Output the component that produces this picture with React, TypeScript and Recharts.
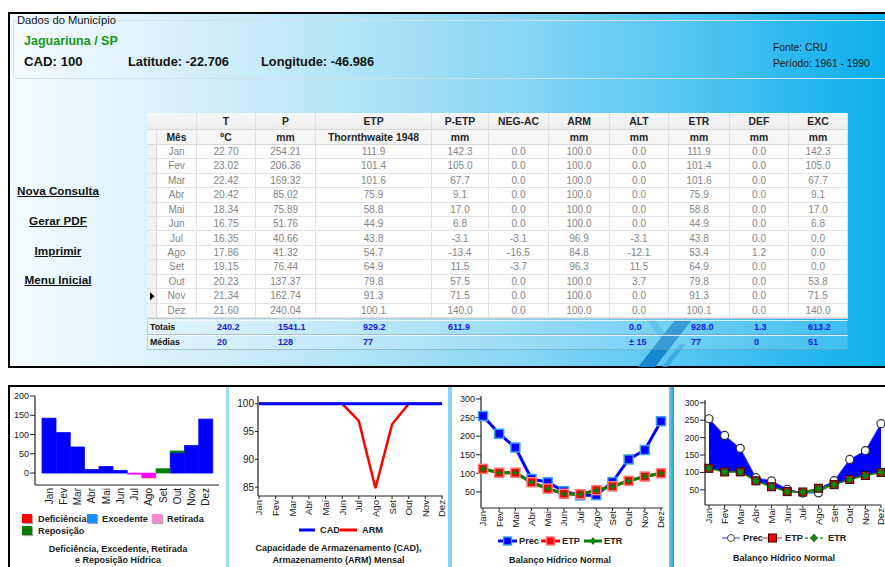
import React from "react";
import { BarChart, Bar, XAxis, YAxis, LineChart, Line, ComposedChart, Area } from "recharts";

const F = "'Liberation Sans', Arial, Helvetica, sans-serif";

// ---------- DATA ----------
const months = ["Jan", "Fev", "Mar", "Abr", "Mai", "Jun", "Jul", "Ago", "Set", "Out", "Nov", "Dez"];
const temp = [22.7, 23.02, 22.42, 20.42, 18.34, 16.75, 16.35, 17.86, 19.15, 20.23, 21.34, 21.6];
const prec = [254.21, 206.36, 169.32, 85.02, 75.89, 51.76, 40.66, 41.32, 76.44, 137.37, 162.74, 240.04];
const etp = [111.9, 101.4, 101.6, 75.9, 58.8, 44.9, 43.8, 54.7, 64.9, 79.8, 91.3, 100.1];
const pMinusEtp = [142.3, 105.0, 67.7, 9.1, 17.0, 6.8, -3.1, -13.4, 11.5, 57.5, 71.5, 140.0];
const negAc = [0, 0, 0, 0, 0, 0, -3.1, -16.5, -3.7, 0, 0, 0];
const arm = [100, 100, 100, 100, 100, 100, 96.9, 84.8, 96.3, 100, 100, 100];
const alt = [0, 0, 0, 0, 0, 0, -3.1, -12.1, 11.5, 3.7, 0, 0];
const etr = [111.9, 101.4, 101.6, 75.9, 58.8, 44.9, 43.8, 53.4, 64.9, 79.8, 91.3, 100.1];
const def = [0, 0, 0, 0, 0, 0, 0, 1.2, 0, 0, 0, 0];
const exc = [142.3, 105.0, 67.7, 9.1, 17.0, 6.8, 0, 0, 0, 53.8, 71.5, 140.0];
const cadValue = 100;

const headerTop = ["T", "P", "ETP", "P-ETP", "NEG-AC", "ARM", "ALT", "ETR", "DEF", "EXC"];
const headerUnits = ["ºC", "mm", "Thornthwaite 1948", "mm", "", "mm", "mm", "mm", "mm", "mm"];
const totalsRow = ["240.2", "1541.1", "929.2", "611.9", "", "", "0.0", "928.0", "1.3", "613.2"];
const mediasRow = ["20", "128", "77", "", "", "", "± 15", "77", "0", "51"];

const axis1Ticks = [0, 50, 100, 150, 200];
const axis2Ticks = [85, 90, 95, 100];
const axis3Ticks = [50, 100, 150, 200, 250, 300];

// ---------- LAYOUT ----------
const colX = [147, 157, 197, 256, 316, 432, 489, 549, 610, 669, 730, 789, 848];
const sumX = [217, 278, 363, 448, 0, 0, 629, 691, 754, 808];

const d1 = months.map((m, i) => ({
  m,
  exc: exc[i],
  repos: Math.max(alt[i], 0),
  retir: Math.min(alt[i], 0),
  def: -def[i],
}));
const d2 = months.map((m, i) => ({ m, cad: cadValue, arm: arm[i] }));
const d3 = months.map((m, i) => ({ m, prec: prec[i], etp: etp[i], etr: etr[i] }));
const d4 = months.map((m, i) => ({
  m,
  prec: prec[i],
  etp: etp[i],
  etr: etr[i],
  excRange: [etp[i], Math.max(prec[i], etp[i])],
  defRange: [Math.min(prec[i], etr[i]), etr[i]],
}));

function Abs({ x, y, w, h, children, style }: any) {
  return (
    <div style={{ position: "absolute", left: x, top: y, width: w, height: h, boxSizing: "border-box", ...style }}>
      {children}
    </div>
  );
}

function Txt({ x, cy, w, children, style }: any) {
  return (
    <div
      style={{
        position: "absolute",
        left: x,
        top: cy - 8,
        width: w,
        height: 16,
        lineHeight: "16px",
        whiteSpace: "nowrap",
        fontFamily: F,
        textAlign: w ? "center" : "left",
        ...style,
      }}
    >
      {children}
    </div>
  );
}

const makeTick = (fs: number) => (props: any) => {
  const { x, y, payload } = props;
  return (
    <text
      x={x}
      y={y}
      transform={`rotate(-90 ${x} ${y})`}
      textAnchor="end"
      dy={fs * 0.36}
      fontSize={fs}
      fill="#1a1a1a"
      fontFamily={F}
    >
      {payload.value}
    </text>
  );
};

function Table() {
  const cells: any[] = [];
  const H1 = 113,
    H2 = 130,
    D0 = 145,
    RH = (318 - 145) / 12;
  const grid = "1px solid #e3e3e3";
  const hdrBase: any = {
    fontFamily: F,
    fontWeight: "bold",
    fontSize: 10.4,
    color: "#262626",
    textAlign: "center",
    borderRight: "1px solid #e0e0e0",
    borderBottom: "1px solid #d8d8d8",
    whiteSpace: "nowrap",
    overflow: "hidden",
  };
  const hdr1: any = { ...hdrBase, background: "linear-gradient(#f8f8f8,#ececec)", lineHeight: "17px" };
  const hdr2: any = { ...hdrBase, background: "#f6f6f6", lineHeight: "15px" };
  cells.push(<Abs key="bg" x={147} y={113} w={701} h={206} style={{ background: "#fff", border: "1px solid #c9c9c9" }} />);
  cells.push(<Abs key="h1a" x={147} y={H1} w={50} h={17} style={hdr1} />);
  for (let c = 2; c < 12; c++) {
    cells.push(
      <Abs key={"h1" + c} x={colX[c]} y={H1} w={colX[c + 1] - colX[c]} h={17} style={hdr1}>
        {headerTop[c - 2]}
      </Abs>
    );
  }
  cells.push(<Abs key="h2a" x={147} y={H2} w={10} h={15} style={hdr2} />);
  cells.push(
    <Abs key="h2b" x={157} y={H2} w={40} h={15} style={hdr2}>
      Mês
    </Abs>
  );
  for (let c = 2; c < 12; c++) {
    cells.push(
      <Abs key={"h2" + c} x={colX[c]} y={H2} w={colX[c + 1] - colX[c]} h={15} style={hdr2}>
        {headerUnits[c - 2]}
      </Abs>
    );
  }
  const dataStyle: any = {
    fontFamily: F,
    fontSize: 10,
    color: "#858585",
    textAlign: "center",
    borderRight: grid,
    borderBottom: grid,
    lineHeight: RH + "px",
    whiteSpace: "nowrap",
  };
  months.forEach((m, i) => {
    const y = D0 + i * RH;
    const vals = [
      m,
      temp[i].toFixed(2),
      prec[i].toFixed(2),
      etp[i].toFixed(1),
      pMinusEtp[i].toFixed(1),
      negAc[i].toFixed(1),
      arm[i].toFixed(1),
      alt[i].toFixed(1),
      etr[i].toFixed(1),
      def[i].toFixed(1),
      exc[i].toFixed(1),
    ];
    cells.push(
      <Abs key={"ind" + i} x={147} y={y} w={10} h={RH} style={{ background: "#f1f1f1", borderRight: "1px solid #d6d6d6", borderBottom: "1px solid #e2e2e2" }}>
        {i === 10 ? (
          <svg width={10} height={RH} style={{ display: "block" }}>
            <polygon points={`3,${RH / 2 - 4} 7.5,${RH / 2} 3,${RH / 2 + 4}`} fill="#000" />
          </svg>
        ) : null}
      </Abs>
    );
    vals.forEach((v, k) => {
      const c = k + 1;
      cells.push(
        <Abs key={"d" + i + "_" + c} x={colX[c]} y={y} w={colX[c + 1] - colX[c]} h={RH} style={dataStyle}>
          {v}
        </Abs>
      );
    });
  });
  // totals / medias
  const sumRowStyle: any = {
    background: "rgba(255,255,255,0.16)",
    borderTop: "1px solid rgba(255,255,255,0.75)",
    borderBottom: "1px solid rgba(110,140,160,0.45)",
    borderLeft: "1px solid rgba(110,140,160,0.35)",
    borderRight: "1px solid rgba(110,140,160,0.35)",
  };
  cells.push(<Abs key="trow" x={147} y={320} w={701} h={15} style={sumRowStyle} />);
  cells.push(<Abs key="mrow" x={147} y={335} w={701} h={15} style={sumRowStyle} />);
  const sumTxt: any = { fontSize: 9, fontWeight: "bold", color: "#1a1ae6" };
  cells.push(
    <Txt key="tl" x={150} cy={327} style={{ fontSize: 8.8, fontWeight: "bold", color: "#111" }}>
      Totais
    </Txt>
  );
  cells.push(
    <Txt key="ml" x={150} cy={342} style={{ fontSize: 8.8, fontWeight: "bold", color: "#111" }}>
      Médias
    </Txt>
  );
  totalsRow.forEach((v, k) => {
    if (v) cells.push(<Txt key={"t" + k} x={sumX[k]} cy={327} style={sumTxt}>{v}</Txt>);
  });
  mediasRow.forEach((v, k) => {
    if (v) cells.push(<Txt key={"mm" + k} x={sumX[k]} cy={342} style={sumTxt}>{v}</Txt>);
  });
  return <>{cells}</>;
}

function Sq({ x, y, color, size = 10 }: any) {
  return (
    <Abs
      x={x}
      y={y}
      w={size}
      h={size - 1}
      style={{ background: color, boxShadow: "1px 1px 1px rgba(0,0,0,0.35)" }}
    />
  );
}

function LegendLine({ x, y, w, color, marker, dashed, lw = 3 }: any) {
  const cx = w / 2;
  return (
    <svg style={{ position: "absolute", left: x, top: y - 6 }} width={w} height={12}>
      <line x1={0} y1={6} x2={w} y2={6} stroke={color} strokeWidth={lw} strokeDasharray={dashed ? "3 2" : undefined} />
      {marker === "sqBlue" && <rect x={cx - 4} y={2} width={8} height={8} fill="#0000ff" stroke="#3aa6f0" strokeWidth={1.5} />}
      {marker === "sqRed" && <rect x={cx - 4} y={2} width={8} height={8} fill="#ff0000" stroke="#ff7a7a" strokeWidth={1.5} />}
      {marker === "sqRedDark" && <rect x={cx - 4} y={2} width={8} height={8} fill="#ff0000" stroke="#400000" strokeWidth={1} />}
      {marker === "star" && <polygon points={`${cx},2 ${cx + 3},6 ${cx},10 ${cx - 3},6`} fill="#008000" />}
      {marker === "diamond" && <polygon points={`${cx},2 ${cx + 3.5},6 ${cx},10 ${cx - 3.5},6`} fill="#0a8a0a" stroke="#004400" strokeWidth={0.5} />}
      {marker === "circle" && <circle cx={cx} cy={6} r={3.5} fill="#fff" stroke="#444" strokeWidth={1} />}
    </svg>
  );
}

const sqDot = (fill: string, stroke: string, s: number, sw: number) => (p: any) => {
  if (p.cx == null || p.cy == null) return <g key={p.index} />;
  return <rect key={p.index} x={p.cx - s / 2} y={p.cy - s / 2} width={s} height={s} fill={fill} stroke={stroke} strokeWidth={sw} />;
};
const diamondDot = (fill: string, stroke: string, r: number) => (p: any) => {
  if (p.cx == null || p.cy == null) return <g key={p.index} />;
  const { cx, cy } = p;
  return <polygon key={p.index} points={`${cx},${cy - r} ${cx + r},${cy} ${cx},${cy + r} ${cx - r},${cy}`} fill={fill} stroke={stroke} strokeWidth={0.6} />;
};
const starDot = (p: any) => {
  if (p.cx == null || p.cy == null) return <g key={p.index} />;
  const { cx, cy } = p;
  const r = 4,
    q = 1.3;
  return (
    <polygon
      key={p.index}
      points={`${cx},${cy - r} ${cx + q},${cy - q} ${cx + r},${cy} ${cx + q},${cy + q} ${cx},${cy + r} ${cx - q},${cy + q} ${cx - r},${cy} ${cx - q},${cy - q}`}
      fill="#008000"
    />
  );
};
const circleDot = (p: any) => {
  if (p.cx == null || p.cy == null) return <g key={p.index} />;
  return <circle key={p.index} cx={p.cx} cy={p.cy} r={4} fill="#fff" stroke="#333" strokeWidth={1.2} />;
};

const axisStroke = { stroke: "#222", strokeWidth: 1.2 };
const legTxt: any = { fontSize: 9.2, fontWeight: "bold", color: "#222" };
const titleTxt: any = { fontSize: 9, fontWeight: "bold", color: "#1a1a1a", textAlign: "center" };
const fsBorder = "1px solid #cde1ea";

export default function App() {
  return (
    <div style={{ position: "absolute", left: 0, top: 0, width: 885, height: 567, overflow: "hidden", background: "#fff", fontFamily: F }}>
      {/* Top panel */}
      <Abs
        x={8}
        y={12}
        w={900}
        h={356}
        style={{
          border: "2px solid #000",
          background:
            "linear-gradient(90deg, #f6fcff 0%, #e2f4fb 12%, #c6ebf9 28%, #a4dff6 45%, #7fd3f4 60%, #55c6f2 75%, #2bb8ee 88%, #02adea 100%)",
        }}
      />
      {/* decoration stripes */}
      <svg style={{ position: "absolute", left: 620, top: 318 }} width={100} height={50}>
        <polygon points="28,2 36,2 50,24 42,24" fill="#3aa8e4" opacity={0.6} />
        <polygon points="55,2 72,2 35,49 18,49" fill="#1487cf" />
        <polygon points="60,26 66,26 48,49 42,49" fill="#2b9fe0" opacity={0.7} />
      </svg>
      {/* fieldset */}
      <Abs x={13} y={20} w={900} h={59} style={{ borderLeft: fsBorder, borderBottom: fsBorder, borderRadius: "0 0 0 5px" }} />
      <Abs x={13} y={20} w={3} h={1} style={{ background: "#cde1ea" }} />
      <Abs x={118} y={20} w={800} h={1} style={{ background: "#cde1ea" }} />
      <Txt x={17} cy={20} style={{ fontSize: 11.2, color: "#111" }}>
        Dados do Município
      </Txt>
      <Txt x={24} cy={41} style={{ fontSize: 12.5, fontWeight: "bold", color: "#169816" }}>
        Jaguariuna / SP
      </Txt>
      <Txt x={24} cy={62} style={{ fontSize: 13.2, fontWeight: "bold", color: "#111" }}>
        CAD: 100
      </Txt>
      <Txt x={128} cy={62} style={{ fontSize: 12.8, fontWeight: "bold", color: "#111" }}>
        Latitude: -22.706
      </Txt>
      <Txt x={261} cy={62} style={{ fontSize: 12.8, fontWeight: "bold", color: "#111" }}>
        Longitude: -46.986
      </Txt>
      <Txt x={773} cy={48} style={{ fontSize: 10.3, color: "#1a1a1a" }}>
        Fonte: CRU
      </Txt>
      <Txt x={773} cy={64} style={{ fontSize: 10.3, color: "#1a1a1a" }}>
        Período: 1961 - 1990
      </Txt>
      {/* links */}
      {["Nova Consulta", "Gerar PDF", "Imprimir", "Menu Inicial"].map((t, i) => (
        <Txt key={t} x={8} w={100} cy={[191, 221, 251, 280][i]} style={{ fontSize: 11.7, fontWeight: "bold", color: "#111", textDecoration: "underline" }}>
          {t}
        </Txt>
      ))}
      <Table />

      {/* Bottom panel */}
      <Abs x={8} y={385} w={900} h={200} style={{ border: "2px solid #000", background: "#fff" }} />
      <Abs x={226} y={387} w={3} h={190} style={{ background: "#9edcf6" }} />
      <Abs x={448} y={387} w={4} h={190} style={{ background: "#86d3f3" }} />
      <Abs x={669} y={387} w={5} h={190} style={{ background: "linear-gradient(90deg,#6fcaf0,#1d9ede)" }} />

      {/* Chart 1 */}
      <div style={{ position: "absolute", left: 8, top: 388 }}>
        <BarChart width={218} height={130} data={d1} margin={{ top: 8, right: 7, bottom: 5, left: 0 }} barCategoryGap={0} barGap={0} stackOffset="sign">
          <XAxis
            dataKey="m"
            interval={0}
            tick={makeTick(10)}
            tickLine={false}
            tickSize={1}
            tickMargin={2}
            height={28}
            axisLine={axisStroke}
            padding={{ left: 7, right: 6 }}
          />
          <YAxis
            width={27}
            domain={[-31, 200]}
            ticks={axis1Ticks}
            allowDataOverflow
            tick={{ fontSize: 9, fill: "#1a1a1a", fontFamily: F }}
            tickSize={5}
            tickMargin={1}
            axisLine={axisStroke}
            tickLine={{ stroke: "#222" }}
          />
          <Bar dataKey="exc" stackId="s" fill="#0000ff" stroke="#0000ff" strokeWidth={0.8} isAnimationActive={false} />
          <Bar dataKey="repos" stackId="s" fill="#008000" stroke="#008000" strokeWidth={0.6} isAnimationActive={false} />
          <Bar dataKey="retir" stackId="s" fill="#ff00ff" stroke="#ff00ff" strokeWidth={0.6} isAnimationActive={false} />
          <Bar dataKey="def" stackId="s" fill="#ff0000" isAnimationActive={false} />
        </BarChart>
      </div>
      <Sq x={22} y={514} color="#ff0000" />
      <Txt x={38} cy={518.5} style={legTxt}>Deficiência</Txt>
      <Sq x={87} y={514} color="#1e8cff" />
      <Txt x={102} cy={518.5} style={legTxt}>Excedente</Txt>
      <Sq x={152} y={514} color="#ff88cc" />
      <Txt x={167} cy={518.5} style={legTxt}>Retirada</Txt>
      <Sq x={22} y={526} color="#007a00" />
      <Txt x={38} cy={530.5} style={legTxt}>Reposição</Txt>
      <Txt x={10} w={216} cy={549} style={titleTxt}>Deficiência, Excedente, Retirada</Txt>
      <Txt x={10} w={216} cy={560} style={titleTxt}>e Reposição Hídrica</Txt>

      {/* Chart 2 */}
      <div style={{ position: "absolute", left: 228, top: 388 }}>
        <LineChart width={220} height={140} data={d2} margin={{ top: 8, right: 5, bottom: 2, left: 0 }}>
          <XAxis
            dataKey="m"
            interval={0}
            tick={makeTick(9.6)}
            tickSize={3}
            tickMargin={1}
            height={30}
            axisLine={axisStroke}
            tickLine={{ stroke: "#222" }}
            padding={{ left: 1, right: 1 }}
          />
          <YAxis
            width={30}
            domain={[83.4, 101.4]}
            ticks={axis2Ticks}
            allowDataOverflow
            tick={{ fontSize: 10, fill: "#1a1a1a", fontFamily: F }}
            tickSize={3}
            tickMargin={1}
            axisLine={axisStroke}
            tickLine={{ stroke: "#222" }}
          />
          <Line dataKey="arm" stroke="#ff0000" strokeWidth={2.5} dot={false} isAnimationActive={false} />
          <Line dataKey="cad" stroke="#0000ff" strokeWidth={3} dot={false} isAnimationActive={false} />
        </LineChart>
      </div>
      <LegendLine x={299} y={530} w={16} color="#0000ff" />
      <Txt x={320} cy={530} style={legTxt}>CAD</Txt>
      <LegendLine x={340} y={530} w={17} color="#ff0000" />
      <Txt x={362} cy={530} style={legTxt}>ARM</Txt>
      <Txt x={229} w={219} cy={548} style={titleTxt}>Capacidade de Armazenamento (CAD),</Txt>
      <Txt x={229} w={219} cy={560} style={titleTxt}>Armazenamento (ARM) Mensal</Txt>

      {/* Chart 3 */}
      <div style={{ position: "absolute", left: 450, top: 388 }}>
        <LineChart width={220} height={145} data={d3} margin={{ top: 8, right: 7, bottom: 3, left: 0 }}>
          <XAxis
            dataKey="m"
            interval={0}
            tick={makeTick(9.6)}
            tickSize={3}
            tickMargin={0}
            height={22}
            axisLine={axisStroke}
            tickLine={{ stroke: "#222" }}
            padding={{ left: 2, right: 2 }}
          />
          <YAxis
            width={31}
            domain={[6.7, 308]}
            ticks={axis3Ticks}
            allowDataOverflow
            tick={{ fontSize: 9, fill: "#1a1a1a", fontFamily: F }}
            tickSize={5}
            tickMargin={1}
            axisLine={axisStroke}
            tickLine={{ stroke: "#222" }}
          />
          <Line dataKey="prec" stroke="#0000ff" strokeWidth={3} dot={sqDot("#0000ff", "#3aa6f0", 9, 1.5)} isAnimationActive={false} />
          <Line dataKey="etp" stroke="#ff0000" strokeWidth={3} dot={sqDot("#ff0000", "#ff7a7a", 9, 1.5)} isAnimationActive={false} />
          <Line dataKey="etr" stroke="#008000" strokeWidth={3} dot={starDot} isAnimationActive={false} />
        </LineChart>
      </div>
      <LegendLine x={498} y={541} w={19} color="#0000ff" marker="sqBlue" />
      <Txt x={519} cy={541} style={legTxt}>Prec</Txt>
      <LegendLine x={541} y={541} w={19} color="#ff0000" marker="sqRed" />
      <Txt x={562} cy={541} style={legTxt}>ETP</Txt>
      <LegendLine x={584} y={541} w={18} color="#008000" marker="star" />
      <Txt x={604} cy={541} style={legTxt}>ETR</Txt>
      <Txt x={452} w={216} cy={560} style={titleTxt}>Balanço Hídrico Normal</Txt>

      {/* Chart 4 */}
      <div style={{ position: "absolute", left: 675, top: 392 }}>
        <ComposedChart width={220} height={140} data={d4} margin={{ top: 8, right: 14, bottom: 3, left: 0 }}>
          <XAxis
            dataKey="m"
            interval={0}
            tick={makeTick(9.6)}
            tickSize={3}
            tickMargin={0}
            height={24}
            axisLine={axisStroke}
            tickLine={{ stroke: "#222" }}
            padding={{ left: 4, right: 0 }}
          />
          <YAxis
            width={30}
            domain={[6.5, 308]}
            ticks={axis3Ticks}
            allowDataOverflow
            tick={{ fontSize: 8.6, fill: "#1a1a1a", fontFamily: F }}
            tickSize={5}
            tickMargin={1}
            axisLine={axisStroke}
            tickLine={{ stroke: "#222" }}
          />
          <Area dataKey="excRange" type="linear" fill="#0000ff" fillOpacity={1} stroke="none" isAnimationActive={false} />
          <Area dataKey="defRange" type="linear" fill="#1a9a1a" fillOpacity={1} stroke="none" isAnimationActive={false} />
          <Line dataKey="prec" stroke="#3c3cff" strokeWidth={1} dot={circleDot} isAnimationActive={false} />
          <Line dataKey="etp" stroke="#d42020" strokeWidth={1} dot={sqDot("#ff0000", "#300000", 8, 1)} isAnimationActive={false} />
          <Line dataKey="etr" stroke="#0a8a0a" strokeWidth={1.5} dot={diamondDot("#0a8a0a", "#003300", 4)} isAnimationActive={false} />
        </ComposedChart>
      </div>
      <LegendLine x={722} y={538} w={18} color="#9a9aff" marker="circle" lw={2} />
      <Txt x={743} cy={538} style={legTxt}>Prec</Txt>
      <LegendLine x={763} y={538} w={19} color="#ff8c8c" marker="sqRedDark" lw={2} />
      <Txt x={785} cy={538} style={legTxt}>ETP</Txt>
      <LegendLine x={805} y={538} w={18} color="#5cb85c" marker="diamond" dashed lw={2} />
      <Txt x={828} cy={538} style={legTxt}>ETR</Txt>
      <Txt x={676} w={216} cy={558} style={titleTxt}>Balanço Hídrico Normal</Txt>
    </div>
  );
}
